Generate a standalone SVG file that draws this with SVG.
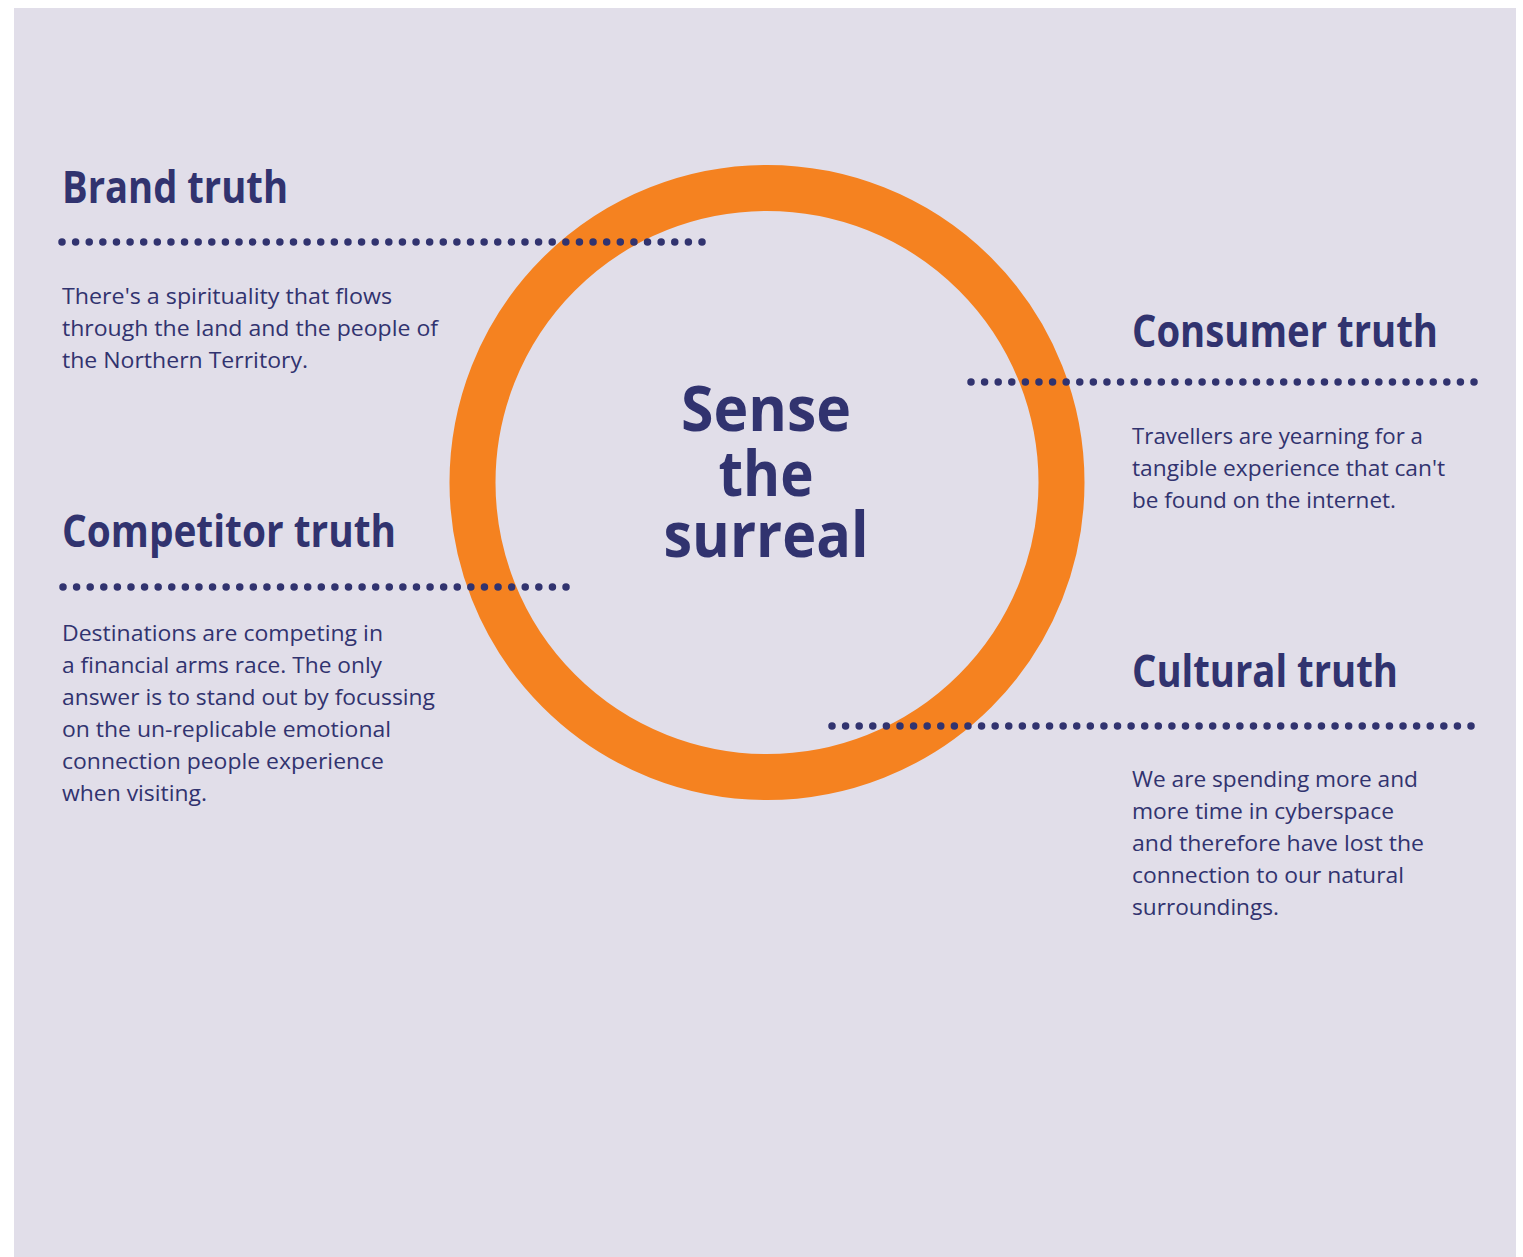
<svg xmlns="http://www.w3.org/2000/svg" width="1523" height="1257" viewBox="0 0 1523 1257">
<style>
.h{font-family:"Open Sans","Noto Sans","Liberation Sans",sans-serif;font-weight:700;font-size:44px;fill:#31336f}
.b{font-family:"Open Sans","Noto Sans","Liberation Sans",sans-serif;font-weight:400;font-size:22px;fill:#31336f}
.c{font-family:"Open Sans","Noto Sans","Liberation Sans",sans-serif;font-weight:700;font-size:62px;fill:#31336f;text-anchor:middle}
.dots{fill:none;stroke:#31336f;stroke-width:7.5;stroke-linecap:round}
</style>
<rect x="0" y="0" width="1523" height="1257" fill="#ffffff"/>
<rect x="14" y="8" width="1502" height="1249" fill="#e1dee9"/>
<g id="ring">
<circle cx="767" cy="482.5" r="294.5" fill="none" stroke="#f58220" stroke-width="46"/>
</g>
<g id="center">
<text class="c"><tspan x="766" y="431" textLength="170" lengthAdjust="spacingAndGlyphs">Sense</tspan><tspan x="766" y="496" textLength="95" lengthAdjust="spacingAndGlyphs">the</tspan><tspan x="766" y="557" textLength="205" lengthAdjust="spacingAndGlyphs">surreal</tspan></text>
</g>
<g id="connectors">
<path class="dots" d="M62 242H702.6" stroke-dasharray="0 13.617"/>
<path class="dots" d="M971 382H1474.6" stroke-dasharray="0 13.595"/>
<path class="dots" d="M63 587H566.6" stroke-dasharray="0 13.595"/>
<path class="dots" d="M832 726H1471.6" stroke-dasharray="0 13.596"/>
</g>
<g id="brand">
<text class="h" x="62" y="203" textLength="226" lengthAdjust="spacingAndGlyphs">Brand truth</text>
<text class="b" x="62" y="304" textLength="330" lengthAdjust="spacingAndGlyphs">There's a spirituality that flows</text>
<text class="b" x="62" y="336" textLength="376" lengthAdjust="spacingAndGlyphs">through the land and the people of</text>
<text class="b" x="62" y="368" textLength="246" lengthAdjust="spacingAndGlyphs">the Northern Territory.</text>
</g>
<g id="consumer">
<text class="h" x="1132" y="347" textLength="306" lengthAdjust="spacingAndGlyphs">Consumer truth</text>
<text class="b" x="1132" y="444" textLength="291" lengthAdjust="spacingAndGlyphs">Travellers are yearning for a</text>
<text class="b" x="1132" y="476" textLength="313" lengthAdjust="spacingAndGlyphs">tangible experience that can't</text>
<text class="b" x="1132" y="508" textLength="264" lengthAdjust="spacingAndGlyphs">be found on the internet.</text>
</g>
<g id="competitor">
<text class="h" x="62" y="547" textLength="334" lengthAdjust="spacingAndGlyphs">Competitor truth</text>
<text class="b" x="62" y="641" textLength="321" lengthAdjust="spacingAndGlyphs">Destinations are competing in</text>
<text class="b" x="62" y="673" textLength="320" lengthAdjust="spacingAndGlyphs">a financial arms race. The only</text>
<text class="b" x="62" y="705" textLength="373" lengthAdjust="spacingAndGlyphs">answer is to stand out by focussing</text>
<text class="b" x="62" y="737" textLength="329" lengthAdjust="spacingAndGlyphs">on the un-replicable emotional</text>
<text class="b" x="62" y="769" textLength="322" lengthAdjust="spacingAndGlyphs">connection people experience</text>
<text class="b" x="62" y="801" textLength="145" lengthAdjust="spacingAndGlyphs">when visiting.</text>
</g>
<g id="cultural">
<text class="h" x="1132" y="687" textLength="266" lengthAdjust="spacingAndGlyphs">Cultural truth</text>
<text class="b" x="1132" y="787" textLength="286" lengthAdjust="spacingAndGlyphs">We are spending more and</text>
<text class="b" x="1132" y="819" textLength="262" lengthAdjust="spacingAndGlyphs">more time in cyberspace</text>
<text class="b" x="1132" y="851" textLength="292" lengthAdjust="spacingAndGlyphs">and therefore have lost the</text>
<text class="b" x="1132" y="883" textLength="272" lengthAdjust="spacingAndGlyphs">connection to our natural</text>
<text class="b" x="1132" y="915" textLength="147" lengthAdjust="spacingAndGlyphs">surroundings.</text>
</g>
</svg>
